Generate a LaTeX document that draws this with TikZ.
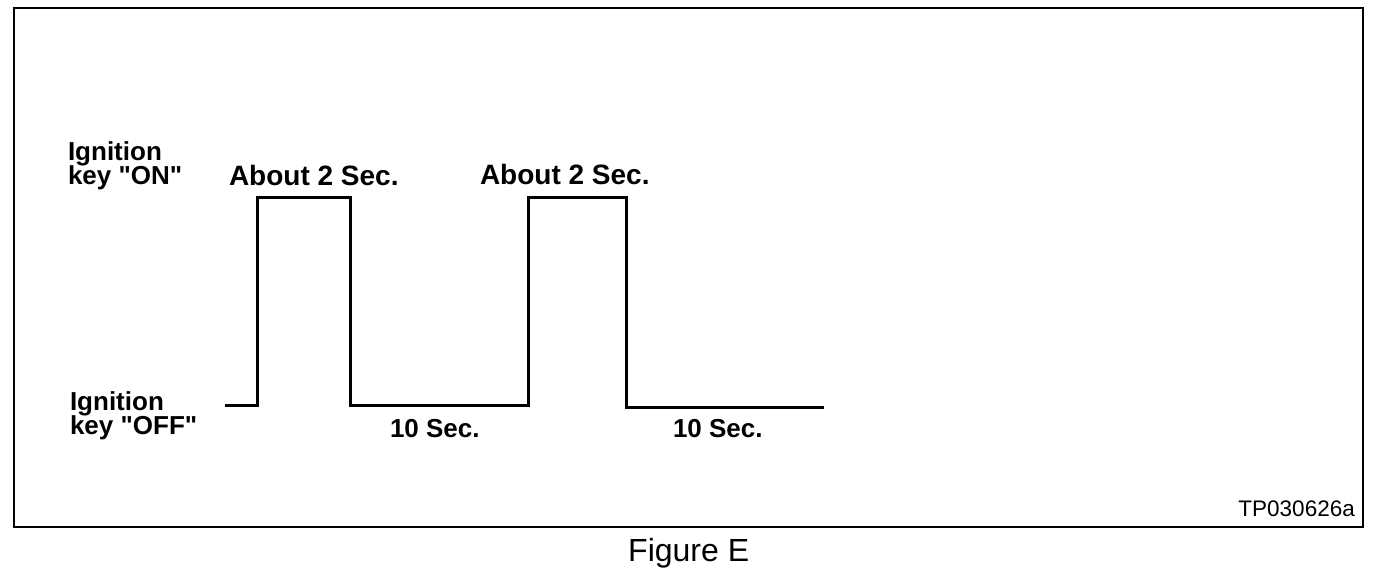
\documentclass[tikz,border=0pt]{standalone}
\usepackage{fontspec}
\setmainfont{Liberation Sans}[Ligatures=TeXOff]
\begin{document}
\begin{tikzpicture}[x=1pt,y=-1pt,
  lbl/.style={inner sep=0pt,outer sep=0pt,font=\fontsize{26}{22}\selectfont\bfseries,anchor=base west},
  biglbl/.style={lbl,font=\fontsize{28}{24}\selectfont\bfseries},
  wave/.style={line width=3pt,line join=miter,line cap=butt},
  frame/.style={line width=2pt}]
\useasboundingbox (0,0) rectangle (1392,576);
\draw[frame] (14,8) rectangle (1363,527);
% waveform
\coordinate (s) at (225,405);
\coordinate (r1b) at (257,405);
\coordinate (r1t) at (257,197);
\coordinate (f1t) at (350,197);
\coordinate (f1b) at (350,405);
\coordinate (r2b) at (528,405);
\coordinate (r2t) at (528,197);
\coordinate (f2t) at (626,197);
\coordinate (f2b) at (626,407);
\coordinate (e) at (824,407);
\draw[wave] (s) -- (r1b) -- (r1t) -- (f1t) -- (f1b) -- (r2b) -- (r2t) -- (f2t) -- (f2b) -- (e);
% labels
\node[lbl] (on1) at (68,160) {Ignition};
\node[lbl] (on2) at (68,184) {key "ON"};
\node[lbl] (off1) at (70,410) {Ignition};
\node[lbl] (off2) at (70,434) {key "OFF"};
\node[biglbl] (a1) at (229,185) {About 2 Sec.};
\node[biglbl] (a2) at (480,184) {About 2 Sec.};
\node[lbl] (t1) at (390,437) {10 Sec.};
\node[lbl] (t2) at (673,437) {10 Sec.};
\node[inner sep=0pt,font=\fontsize{22.5}{24}\selectfont,anchor=base east] (tp) at (1355,516) {TP030626a};
\node[inner sep=0pt,font=\fontsize{32}{34}\selectfont,anchor=base west] (fig) at (628,561) {Figure E};
\end{tikzpicture}
\end{document}
